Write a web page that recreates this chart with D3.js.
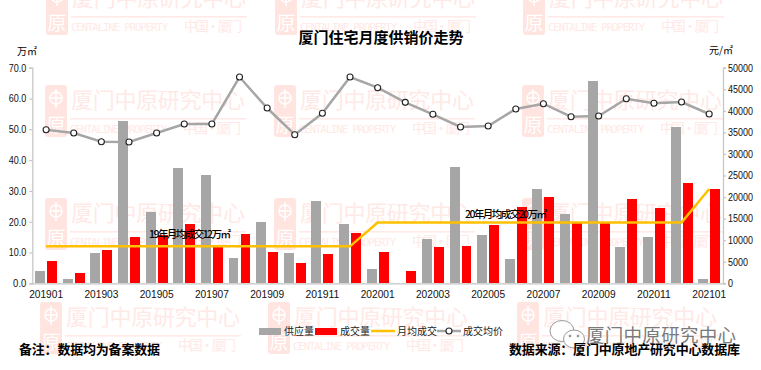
<!DOCTYPE html>
<html>
<head>
<meta charset="utf-8">
<script src="https://cdnjs.cloudflare.com/ajax/libs/d3/7.8.5/d3.min.js"></script>
<style>
  html, body { margin: 0; padding: 0; background: #fff; }
  svg { display: block; }
  text { font-family: "Noto Sans CJK SC", "Liberation Sans", sans-serif; fill: #000; }
  .num text, text.num { font-family: "Liberation Sans", "Noto Sans CJK SC", sans-serif; }
</style>
</head>
<body>
<div id="chart"></div>
<script>
const months = ["201901","201902","201903","201904","201905","201906","201907","201908","201909","201910","201911","201912",
  "202001","202002","202003","202004","202005","202006","202007","202008","202009","202010","202011","202012","202101"];
const supply = [4.0,1.3,9.8,52.7,23.0,37.5,35.2,8.2,20.0,9.8,26.8,19.3,4.6,0,14.4,37.8,15.7,7.9,30.6,22.5,65.7,11.8,15.0,50.7,1.4];
const deal = [7.2,3.3,10.8,15.0,15.7,19.3,12.2,16.0,10.2,6.6,9.5,16.3,10.1,4.0,11.8,12.1,18.9,24.8,28.0,19.6,19.6,27.3,24.4,32.5,30.6];
const monthlyAvg = [12,12,12,12,12,12,12,12,12,12,12,12,19.7,19.7,19.7,19.7,19.7,19.7,19.7,19.7,19.7,19.7,19.7,19.7,30.6];
const price = [35620,34850,32840,32770,34850,36950,36950,47840,40650,34460,39420,47840,45360,41970,39190,36250,36480,40420,41650,38640,38800,42810,41740,42040,39260];
const leftTicks = [0,10,20,30,40,50,60,70];
const rightTicks = [0,5000,10000,15000,20000,25000,30000,35000,40000,45000,50000];
const legendNames = ["供应量","成交量","月均成交","成交均价"];

const width = 761, height = 370;
const plot = {left: 32.3, right: 723, top: 67.7, bottom: 283.3};

const svg = d3.select("#chart").append("svg").attr("width", width).attr("height", height);

// background watermark, repeated over the whole picture
const wmRows = [
  {y: -17, xs: [46, 275, 523]},
  {y: 85, xs: [45, 274, 522]},
  {y: 198, xs: [45, 274, 522]},
  {y: 302, xs: [40, 268, 517]}
];
const wmColor = "#ffe9e6";
const wm = svg.append("g").attr("class", "watermark");
wmRows.forEach(row => row.xs.forEach(x => {
  const g = wm.append("g").attr("transform", `translate(${x},${row.y})`);
  g.append("rect").attr("width", 22).attr("height", 52).attr("rx", 3).attr("fill", "#ffe4e0");
  g.append("circle").attr("cx", 11).attr("cy", 13).attr("r", 6).attr("fill", "none").attr("stroke", "#fff").attr("stroke-width", 1.6);
  g.append("path").attr("d", "M11 4V23M6 13H16").attr("stroke", "#fff").attr("stroke-width", 1.6);
  g.append("text").attr("x", 11).attr("y", 47).attr("text-anchor", "middle").style("font-size", "19px").style("fill", "#fff").text("原");
  g.append("text").attr("x", 26).attr("y", 23).style("font-size", "22px").style("fill", wmColor).attr("textLength", 174).text("厦门中原研究中心");
  g.append("rect").attr("x", 25).attr("y", 33).attr("width", 176).attr("height", 1.6).attr("fill", wmColor);
  g.append("text").attr("x", 25).attr("y", 48).style("font-family", "'DejaVu Sans Mono', monospace").style("font-size", "10.5px").style("fill", wmColor)
    .attr("textLength", 97).text("CENTALINE PROPERTY");
  g.append("text").attr("x", 138).attr("y", 48).style("font-size", "13.5px").style("fill", wmColor).attr("textLength", 58).text("中国·厦门");
}));

// scales
const x = d3.scaleBand().domain(months).range([plot.left, plot.right]);
const xInner = d3.scaleBand().domain(["supply", "deal"]).range([0, x.bandwidth()]).paddingInner(0.17).paddingOuter(0.24);
const yLeft = d3.scaleLinear().domain([0, 70]).range([plot.bottom, plot.top]);
const yRight = d3.scaleLinear().domain([0, 50000]).range([plot.bottom, plot.top]);

// axes, labels squeezed a little because the original face is narrower
function styleAxis(g, size, charWidth) {
  g.classed("num", true);
  g.selectAll("path, line").attr("stroke", "#c4c4c4").attr("stroke-width", 1.2);
  g.selectAll("text").style("font-size", size + "px").style("fill", "#111")
    .attr("lengthAdjust", "spacingAndGlyphs")
    .attr("textLength", function() { return this.textContent.length * charWidth; });
}
svg.append("g").attr("transform", `translate(${plot.left},0)`)
  .call(d3.axisLeft(yLeft).tickValues(leftTicks).tickFormat(d3.format(".1f")).tickSize(3).tickSizeOuter(3).tickPadding(3))
  .call(styleAxis, 10.5, 4.4);
svg.append("g").attr("transform", `translate(${plot.right},0)`)
  .call(d3.axisRight(yRight).tickValues(rightTicks).tickFormat(d => d).tickSize(3).tickSizeOuter(3).tickPadding(2))
  .call(styleAxis, 10.5, 5);
svg.append("g").attr("transform", `translate(0,${plot.bottom})`)
  .call(d3.axisBottom(x).tickValues(months.filter((d, i) => i % 2 === 0)).tickSize(0).tickPadding(7))
  .call(styleAxis, 11.5, 5.65);

// bars
svg.append("g").attr("shape-rendering", "crispEdges").selectAll("rect").data(months).join("rect")
  .attr("x", d => x(d) + xInner("supply"))
  .attr("width", xInner.bandwidth())
  .attr("y", (d, i) => yLeft(supply[i]))
  .attr("height", (d, i) => plot.bottom - yLeft(supply[i]))
  .attr("fill", "#a6a6a6");
svg.append("g").attr("shape-rendering", "crispEdges").selectAll("rect").data(months).join("rect")
  .attr("x", d => x(d) + xInner("deal"))
  .attr("width", xInner.bandwidth())
  .attr("y", (d, i) => yLeft(deal[i]))
  .attr("height", (d, i) => plot.bottom - yLeft(deal[i]))
  .attr("fill", "#ff0000");

// lines
const cx = d => x(d) + x.bandwidth() / 2;
const avgLine = d3.line().x(d => cx(d)).y((d, i) => yLeft(monthlyAvg[i]));
const priceLine = d3.line().x(d => cx(d)).y((d, i) => yRight(price[i]));
svg.append("path").attr("d", avgLine(months)).attr("fill", "none").attr("stroke", "#ffc000").attr("stroke-width", 2.5);
svg.append("path").attr("d", priceLine(months)).attr("fill", "none").attr("stroke", "#a6a6a6").attr("stroke-width", 2.5);
svg.append("g").selectAll("circle").data(months).join("circle")
  .attr("cx", d => cx(d))
  .attr("cy", (d, i) => yRight(price[i]))
  .attr("r", 3)
  .attr("fill", "#fff")
  .attr("stroke", "#222")
  .attr("stroke-width", 1.1);

// annotations
svg.append("text").attr("x", 149).attr("y", 238).style("font-size", "10.5px").style("font-weight", 500).attr("textLength", 82).text("19年月均成交12万㎡");
svg.append("text").attr("x", 465).attr("y", 218).style("font-size", "10.5px").style("font-weight", 500).attr("textLength", 82).text("20年月均成交20万㎡");

// titles and units
svg.append("text").attr("x", 381).attr("y", 43).attr("text-anchor", "middle").style("font-size", "15px").style("font-weight", 700).text("厦门住宅月度供销价走势");
svg.append("text").attr("x", 17).attr("y", 55).style("font-size", "10px").text("万㎡");
svg.append("text").attr("x", 709).attr("y", 54).style("font-size", "10px").text("元/㎡");

// legend
const legendY = 331;
const legend = svg.append("g");
legend.append("rect").attr("x", 259).attr("y", legendY - 3).attr("width", 22).attr("height", 7).attr("fill", "#a6a6a6");
legend.append("rect").attr("x", 315).attr("y", legendY - 3).attr("width", 22).attr("height", 7).attr("fill", "#ff0000");
legend.append("line").attr("x1", 371).attr("x2", 395).attr("y1", legendY).attr("y2", legendY).attr("stroke", "#ffc000").attr("stroke-width", 2.5);
legend.append("line").attr("x1", 437).attr("x2", 461).attr("y1", legendY).attr("y2", legendY).attr("stroke", "#a6a6a6").attr("stroke-width", 2.5);
legend.append("circle").attr("cx", 449).attr("cy", legendY).attr("r", 3).attr("fill", "#fff").attr("stroke", "#222").attr("stroke-width", 1.1);
[284, 340, 397, 463].forEach((lx, i) => {
  legend.append("text").attr("x", lx).attr("y", legendY + 4).style("font-size", "10px").style("fill", "#222").text(legendNames[i]);
});

// wechat mark at bottom right
const wx = svg.append("g").attr("fill", "#fff").attr("stroke", "#9a9a9a").attr("stroke-width", 1);
wx.append("ellipse").attr("cx", 562).attr("cy", 331).attr("rx", 12).attr("ry", 10.5);
wx.append("ellipse").attr("cx", 574).attr("cy", 339).attr("rx", 10.5).attr("ry", 9);
wx.append("circle").attr("cx", 570).attr("cy", 336).attr("r", 1).attr("fill", "#777");
wx.append("circle").attr("cx", 578).attr("cy", 336).attr("r", 1).attr("fill", "#777");
svg.append("text").attr("x", 586).attr("y", 342).style("font-size", "18.5px").style("fill", "#7a7a7a")
  .style("paint-order", "stroke").style("stroke", "#fff").style("stroke-width", 1).attr("textLength", 150).text("厦门中原研究中心");

// footnotes
svg.append("text").attr("x", 19).attr("y", 354).style("font-size", "13px").style("font-weight", 700).attr("textLength", 141).text("备注：数据均为备案数据");
svg.append("text").attr("x", 509).attr("y", 354).style("font-size", "13px").style("font-weight", 700).attr("textLength", 231).text("数据来源：厦门中原地产研究中心数据库");
</script>
</body>
</html>
